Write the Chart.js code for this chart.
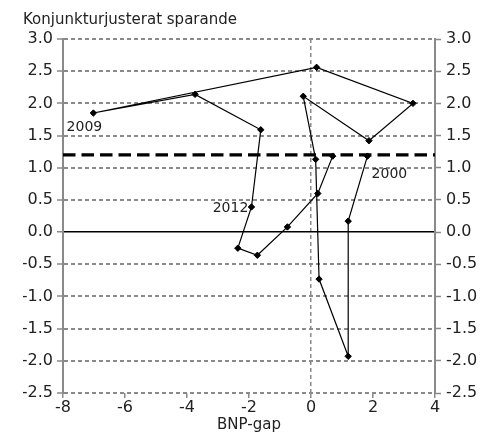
<!DOCTYPE html>
<html>
<head>
<meta charset="utf-8">
<script src="https://cdn.jsdelivr.net/npm/chart.js@4/dist/chart.umd.min.js"></script>
<style>
  html, body { margin: 0; padding: 0; background: #fff; }
  #wrap { width: 493px; height: 432px; }
</style>
</head>
<body>
<div id="wrap"><canvas id="c" width="493" height="432"></canvas></div>
<script>
// ---- data ----
const years   = [2000, 2001, 2002, 2003, 2004, 2005, 2006, 2007, 2008, 2009, 2010, 2011, 2012, 2013, 2014, 2015, 2016, 2017];
const bnpGap  = [1.82, 1.20, 1.20, 0.26, 0.15, -0.25, 1.87, 3.29, 0.18, -7.02, -3.74, -1.62, -1.92, -2.36, -1.73, -0.76, 0.22, 0.70];
const sparande = [1.18, 0.17, -1.93, -0.73, 1.13, 2.11, 1.42, 2.00, 2.56, 1.85, 2.14, 1.59, 0.39, -0.25, -0.36, 0.08, 0.60, 1.18];
const targetLevel = [1.2];
const targetSpan = [-8, 4];
const labeledYears = [2000, 2009, 2012];
const xTicks = [-8, -6, -4, -2, 0, 2, 4];
const yTicks = [-2.5, -2.0, -1.5, -1.0, -0.5, 0.0, 0.5, 1.0, 1.5, 2.0, 2.5, 3.0];

// label placement offsets (pixels, relative to the point)
const labelOffsets = { 2000: [22, 18], 2009: [-9, 14], 2012: [-21, 1.5] };

const FONT = "'DejaVu Sans', Verdana, sans-serif";
const GRID_GRAY = '#8a8a8a';

const pathData = bnpGap.map((x, i) => ({ x: x, y: sparande[i] }));
const targetData = targetSpan.map(x => ({ x: x, y: targetLevel[0] }));

const yearLabels = {
  id: 'yearLabels',
  afterDatasetsDraw(chart) {
    const ctx = chart.ctx;
    const meta = chart.getDatasetMeta(0);
    ctx.save();
    ctx.font = '14px ' + FONT;
    ctx.fillStyle = '#222';
    ctx.textAlign = 'center';
    ctx.textBaseline = 'middle';
    labeledYears.forEach(yr => {
      const i = years.indexOf(yr);
      const el = meta.data[i];
      const off = labelOffsets[yr];
      ctx.fillText(String(yr), el.x + off[0], el.y + off[1]);
    });
    ctx.restore();
  }
};

const isZero = v => Math.abs(v) < 1e-9;

new Chart(document.getElementById('c'), {
  type: 'scatter',
  data: {
    datasets: [
      {
        data: pathData,
        showLine: true,
        borderColor: '#000',
        borderWidth: 1.2,
        backgroundColor: '#000',
        pointStyle: 'rectRot',
        pointRadius: 3.2,
        pointBorderWidth: 1,
        tension: 0
      },
      {
        data: targetData,
        showLine: true,
        borderColor: '#000',
        borderWidth: 3.2,
        borderDash: [12.5, 6],
        pointRadius: 0,
        tension: 0
      }
    ]
  },
  options: {
    responsive: false,
    animation: false,
    layout: { padding: { left: 23, right: 0, top: 0, bottom: 0 } },
    plugins: {
      legend: { display: false },
      tooltip: { enabled: false },
      title: {
        display: true,
        text: 'Konjunkturjusterat sparande',
        align: 'start',
        color: '#222',
        font: { family: FONT, size: 15, weight: 'normal' },
        padding: { top: 11, bottom: 10 }
      }
    },
    scales: {
      x: {
        type: 'linear',
        min: xTicks[0],
        max: xTicks[xTicks.length - 1],
        afterBuildTicks: s => { s.ticks = xTicks.map(v => ({ value: v })); },
        afterFit: s => { s.height = 39; },
        ticks: {
          color: '#222',
          font: { family: FONT, size: 16 },
          padding: 0,
          maxRotation: 0,
          callback: v => String(v)
        },
        grid: {
          color: ctx => (ctx.tick && isZero(ctx.tick.value)) ? GRID_GRAY : 'rgba(0,0,0,0)',
          lineWidth: 1.5,
          tickColor: GRID_GRAY,
          tickWidth: 1.5,
          tickLength: 5
        },
        border: { display: false, dash: [4, 3] },
        title: {
          display: true,
          text: 'BNP-gap',
          color: '#222',
          font: { family: FONT, size: 15 },
          padding: { top: 0, bottom: -2 }
        }
      },
      y: {
        type: 'linear',
        position: 'left',
        min: yTicks[0],
        max: yTicks[yTicks.length - 1],
        afterBuildTicks: s => { s.ticks = yTicks.map(v => ({ value: v })); },
        afterFit: s => { s.width = 40; },
        ticks: {
          color: '#222',
          font: { family: FONT, size: 16 },
          padding: 4,
          callback: v => Number(v).toFixed(1)
        },
        grid: {
          color: ctx => (ctx.tick && isZero(ctx.tick.value)) ? '#000' : GRID_GRAY,
          lineWidth: ctx => (ctx.tick && isZero(ctx.tick.value)) ? 1.5 : 2,
          tickColor: GRID_GRAY,
          tickWidth: 1.5,
          tickLength: 6
        },
        border: {
          display: true,
          color: GRID_GRAY,
          width: 2,
          dash: ctx => (ctx.tick && isZero(ctx.tick.value)) ? [] : [4, 3]
        }
      },
      y2: {
        type: 'linear',
        position: 'right',
        min: yTicks[0],
        max: yTicks[yTicks.length - 1],
        afterBuildTicks: s => { s.ticks = yTicks.map(v => ({ value: v })); },
        afterFit: s => { s.width = 58; },
        ticks: {
          color: '#222',
          font: { family: FONT, size: 16 },
          padding: 5,
          callback: v => Number(v).toFixed(1)
        },
        grid: {
          drawOnChartArea: false,
          color: GRID_GRAY,
          tickColor: GRID_GRAY,
          tickWidth: 1.5,
          tickLength: 6
        },
        border: { display: true, color: GRID_GRAY, width: 2 }
      }
    }
  },
  plugins: [yearLabels]
});
</script>
</body>
</html>
